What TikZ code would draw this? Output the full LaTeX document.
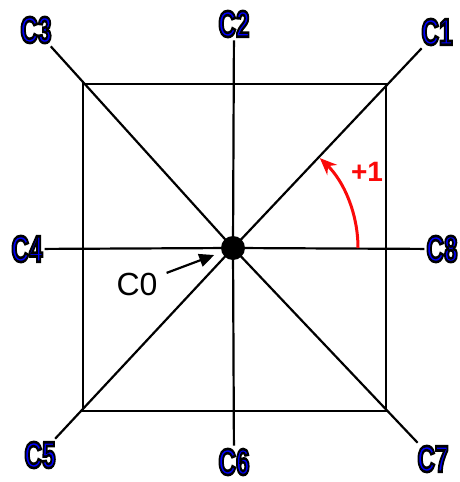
\documentclass[tikz,border=0pt]{standalone}
\usepackage{fontspec}
\setmainfont{Liberation Sans}
\usetikzlibrary{arrows.meta}
\definecolor{dirBlue}{RGB}{0,0,250}
\definecolor{stepRed}{RGB}{250,10,10}
% blue letters with a black rim
\newcommand{\rimtext}[1]{\special{pdf:literal direct 0 0 0 RG 2.6 w 2 Tr}#1\special{pdf:literal direct 0 Tr}}
\tikzset{
  dirlabel/.style={font=\bfseries\fontsize{37}{37}\selectfont, text=dirBlue, xscale=0.66, inner sep=3pt},
  ray/.style={line width=2.2pt},
  frame/.style={line width=2.2pt},
  pointer/.style={-{Triangle[length=15pt,width=13pt]}, line width=2.2pt},
  turn/.style={-{Stealth[length=17pt,width=14pt]}, line width=3pt, color=stepRed}
}
\begin{document}
\begin{tikzpicture}[x=1pt, y=-1pt]
  \useasboundingbox (0,0) rectangle (460,482);
  \coordinate (c0) at (233,248);

  \node[dirlabel] (c1) at (437,32)  {\rimtext{C1}};
  \node[dirlabel] (c2) at (234,24)  {\rimtext{C2}};
  \node[dirlabel] (c3) at (36,30)   {\rimtext{C3}};
  \node[dirlabel] (c4) at (27,249)  {\rimtext{C4}};
  \node[dirlabel] (c5) at (40,455)  {\rimtext{C5}};
  \node[dirlabel] (c6) at (234,462) {\rimtext{C6}};
  \node[dirlabel] (c7) at (433,459) {\rimtext{C7}};
  \node[dirlabel] (c8) at (442,249) {\rimtext{C8}};

  \draw[frame] (83,84) rectangle (386,411);

  \foreach \k in {1,...,8}
    \draw[ray] (c0) -- (c\k);

  \fill (c0) circle (12);

  \node[font=\fontsize{32}{32}\selectfont] (lab0) at (137,284) {C0};
  \draw[pointer, shorten <=6pt, shorten >=20pt] (lab0) -- (c0);

  \draw[turn] (358,248) arc[start angle=0, end angle=-46, radius=125];
  \node[font=\bfseries\fontsize{28}{28}\selectfont, text=stepRed] (plus) at (367,172) {+1};
\end{tikzpicture}
\end{document}
